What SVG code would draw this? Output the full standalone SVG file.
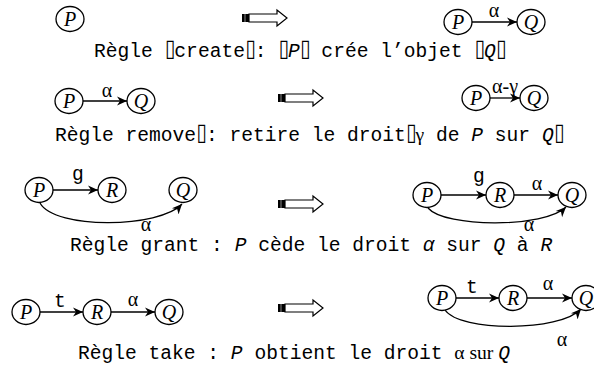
<svg xmlns="http://www.w3.org/2000/svg" xmlns:xlink="http://www.w3.org/1999/xlink" width="594" height="369" viewBox="0 0 594 369">
<style>
.node ellipse{fill:#fff;stroke:#000;stroke-width:1.3}
.nl{font-family:"Liberation Serif","Times New Roman",serif;font-style:italic;font-size:20px;text-anchor:middle}
.el{font-family:"Liberation Serif","Times New Roman",serif;font-size:20px;text-anchor:middle}
.ml{font-family:"Liberation Mono","Courier New",monospace;font-size:19.6px;text-anchor:middle}
.edge{fill:none;stroke:#000;stroke-width:1.3;marker-end:url(#ah)}
.cap{font-family:"Liberation Mono","Courier New",monospace;font-size:19.6px}
.it{font-style:italic}
.sf{font-family:"Liberation Serif","Times New Roman",serif}
.tf{font-family:"DejaVu Sans Mono",monospace;letter-spacing:-2px}
</style>
<defs>
<marker id="ah" markerUnits="userSpaceOnUse" markerWidth="11" markerHeight="10" refX="10" refY="5" orient="auto">
<path d="M0,0.5 L10,5 L0,9.5 L3,5 Z" fill="#000"/>
</marker>
<g id="big">
<rect x="0" y="-4" width="7" height="8" fill="#000"/>
<line x1="3" y1="-4" x2="3" y2="4" stroke="#888" stroke-width="1"/>
<path d="M7,-4 H35 V-8 L45,0 L35,8 V4 H7 Z" fill="#fff" stroke="#000" stroke-width="1.2"/>
</g>
</defs>

<g id="rule-arrows">
<use xlink:href="#big" transform="translate(242,18)"/>
<use xlink:href="#big" transform="translate(278,98)"/>
<use xlink:href="#big" transform="translate(278,204)"/>
<use xlink:href="#big" transform="translate(278,308)"/>
</g>

<g id="connectors">
<line class="edge" x1="472" y1="22" x2="517" y2="22"/>
<line class="edge" x1="83" y1="101" x2="127" y2="101"/>
<line class="edge" x1="490" y1="98" x2="520" y2="98"/>
<line class="edge" x1="53" y1="190" x2="98" y2="190"/>
<path class="edge" d="M40,203 C55,230 160,228 182,204"/>
<line class="edge" x1="441" y1="195" x2="486" y2="195"/>
<line class="edge" x1="514" y1="195" x2="558" y2="195"/>
<path class="edge" d="M428,208 C445,228 545,228 566,207"/>
<line class="edge" x1="40" y1="312" x2="83" y2="312"/>
<line class="edge" x1="111" y1="312" x2="155" y2="312"/>
<line class="edge" x1="456" y1="298" x2="499" y2="298"/>
<line class="edge" x1="527" y1="298" x2="572" y2="298"/>
<path class="edge" d="M445,310 C460,332 560,332 581,309"/>
</g>

<g id="edge-labels">
<text class="el" x="494" y="17">α</text>
<text class="el" x="107" y="97">α</text>
<text class="el" x="505" y="93">α-γ</text>
<text class="ml" x="78" y="180">g</text>
<text class="el" x="146" y="231">α</text>
<text class="ml" x="479" y="182">g</text>
<text class="el" x="537" y="190">α</text>
<text class="el" x="529" y="231">α</text>
<text class="ml" x="60" y="307">t</text>
<text class="el" x="133" y="306">α</text>
<text class="ml" x="472" y="293">t</text>
<text class="el" x="548" y="290">α</text>
<text class="el" x="562" y="346">α</text>
</g>

<g id="r1-P"><g class="node"><ellipse cx="70" cy="19" rx="14" ry="12.5"/></g><text class="nl" x="70" y="26">P</text></g>
<g id="r1b-P"><g class="node"><ellipse cx="458" cy="22" rx="14" ry="12.5"/></g><text class="nl" x="458" y="29">P</text></g>
<g id="r1b-Q"><g class="node"><ellipse cx="531" cy="22" rx="14" ry="12.5"/></g><text class="nl" x="531" y="29">Q</text></g>

<g id="r2-P"><g class="node"><ellipse cx="69" cy="101" rx="14" ry="12.5"/></g><text class="nl" x="69" y="108">P</text></g>
<g id="r2-Q"><g class="node"><ellipse cx="141" cy="101" rx="14" ry="12.5"/></g><text class="nl" x="141" y="108">Q</text></g>
<g id="r2b-P"><g class="node"><ellipse cx="476" cy="98" rx="14" ry="12.5"/></g><text class="nl" x="476" y="105">P</text></g>
<g id="r2b-Q"><g class="node"><ellipse cx="534" cy="98" rx="14" ry="12.5"/></g><text class="nl" x="534" y="105">Q</text></g>

<g id="r3-P"><g class="node"><ellipse cx="39" cy="190" rx="14" ry="12.5"/></g><text class="nl" x="39" y="197">P</text></g>
<g id="r3-R"><g class="node"><ellipse cx="112" cy="190" rx="14" ry="12.5"/></g><text class="nl" x="112" y="197">R</text></g>
<g id="r3-Q"><g class="node"><ellipse cx="183" cy="190" rx="14" ry="12.5"/></g><text class="nl" x="183" y="197">Q</text></g>
<g id="r3b-P"><g class="node"><ellipse cx="427" cy="195" rx="14" ry="12.5"/></g><text class="nl" x="427" y="202">P</text></g>
<g id="r3b-R"><g class="node"><ellipse cx="500" cy="195" rx="14" ry="12.5"/></g><text class="nl" x="500" y="202">R</text></g>
<g id="r3b-Q"><g class="node"><ellipse cx="572" cy="195" rx="14" ry="12.5"/></g><text class="nl" x="572" y="202">Q</text></g>

<g id="r4-P"><g class="node"><ellipse cx="26" cy="312" rx="14" ry="12.5"/></g><text class="nl" x="26" y="319">P</text></g>
<g id="r4-R"><g class="node"><ellipse cx="97" cy="312" rx="14" ry="12.5"/></g><text class="nl" x="97" y="319">R</text></g>
<g id="r4-Q"><g class="node"><ellipse cx="169" cy="312" rx="14" ry="12.5"/></g><text class="nl" x="169" y="319">Q</text></g>
<g id="r4b-P"><g class="node"><ellipse cx="442" cy="298" rx="14" ry="12.5"/></g><text class="nl" x="442" y="305">P</text></g>
<g id="r4b-R"><g class="node"><ellipse cx="513" cy="298" rx="14" ry="12.5"/></g><text class="nl" x="513" y="305">R</text></g>
<g id="r4b-Q"><g class="node"><ellipse cx="586" cy="298" rx="14" ry="12.5"/></g><text class="nl" x="586" y="305">Q</text></g>

<g id="captions">
<text class="cap" x="94" y="57">Règle <tspan class="tf">⌷</tspan>create<tspan class="tf">⌷</tspan>: <tspan class="tf">⌷</tspan><tspan class="it">P</tspan><tspan class="tf">⌷</tspan> crée l’objet <tspan class="tf">⌷</tspan><tspan class="it">Q</tspan><tspan class="tf">⌷</tspan></text>
<text class="cap" x="55" y="141">Règle remove<tspan class="tf">⌷</tspan>: retire le droit<tspan class="tf">⌷</tspan><tspan class="sf">γ</tspan> de <tspan class="it">P</tspan> sur <tspan class="it">Q</tspan><tspan class="tf">⌷</tspan></text>
<text class="cap" x="70" y="251">Règle grant : <tspan class="it">P</tspan> cède le droit <tspan class="it">α</tspan> sur <tspan class="it">Q</tspan> à <tspan class="it">R</tspan></text>
<text class="cap" x="78" y="359">Règle take : <tspan class="it">P</tspan> obtient le droit <tspan class="sf">α sur </tspan><tspan class="it">Q</tspan></text>
</g>
</svg>
